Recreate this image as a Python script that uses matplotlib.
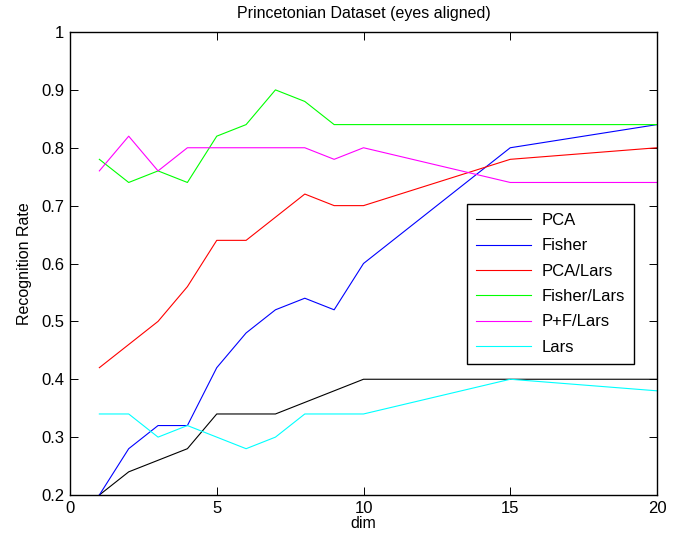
import matplotlib
matplotlib.use("Agg")
import matplotlib.pyplot as plt

plt.rcParams['font.family'] = ['Liberation Sans', 'DejaVu Sans']

dims = [1, 2, 3, 4, 5, 6, 7, 8, 9, 10, 15, 20]
pca = [0.20, 0.24, 0.26, 0.28, 0.34, 0.34, 0.34, 0.36, 0.38, 0.40, 0.40, 0.40]
fisher = [0.20, 0.28, 0.32, 0.32, 0.42, 0.48, 0.52, 0.54, 0.52, 0.60, 0.80, 0.84]
pca_lars = [0.42, 0.46, 0.50, 0.56, 0.64, 0.64, 0.68, 0.72, 0.70, 0.70, 0.78, 0.80]
fisher_lars = [0.78, 0.74, 0.76, 0.74, 0.82, 0.84, 0.90, 0.88, 0.84, 0.84, 0.84, 0.84]
pf_lars = [0.76, 0.82, 0.76, 0.80, 0.80, 0.80, 0.80, 0.80, 0.78, 0.80, 0.74, 0.74]
lars = [0.34, 0.34, 0.30, 0.32, 0.30, 0.28, 0.30, 0.34, 0.34, 0.34, 0.40, 0.38]

series = [
    ("PCA", pca, "#000000"),
    ("Fisher", fisher, "#0000ff"),
    ("PCA/Lars", pca_lars, "#ff0000"),
    ("Fisher/Lars", fisher_lars, "#00ff00"),
    ("P+F/Lars", pf_lars, "#ff00ff"),
    ("Lars", lars, "#00ffff"),
]

fig = plt.figure(figsize=(6.77, 5.44), dpi=100)
ax = fig.add_axes([70 / 677, 1 - 495 / 544, 587 / 677, 463 / 544])

for name, vals, col in series:
    ax.plot(dims, vals, color=col, lw=0.8, label=name)

ax.set_xlim(0, 20)
ax.set_ylim(0.2, 1.0)
ax.set_xticks([0, 5, 10, 15, 20])
ax.set_yticks([0.2, 0.3, 0.4, 0.5, 0.6, 0.7, 0.8, 0.9, 1.0])
ax.set_yticklabels(["0.2", "0.3", "0.4", "0.5", "0.6", "0.7", "0.8", "0.9", "1"])
ax.tick_params(direction='in', top=True, right=True, labelsize=12, length=6, width=0.7, pad=4)
for sp in ax.spines.values():
    sp.set_linewidth(1.0)

ax.set_xlabel("dim", fontsize=11.5, labelpad=0)
ax.set_ylabel("Recognition Rate", fontsize=11.5, labelpad=7)
ax.set_title("Princetonian Dataset (eyes aligned)", fontsize=11.5, pad=10)

leg = ax.legend(loc='upper right', bbox_to_anchor=((634 - 70) / 587, (495 - 204) / 463),
                fontsize=12, fancybox=False, framealpha=1, edgecolor='black',
                borderpad=0.55, handlelength=3.3, handletextpad=0.6,
                labelspacing=0.62, borderaxespad=0)
leg.get_frame().set_linewidth(1.0)

fig.savefig("out.png", dpi=100)
